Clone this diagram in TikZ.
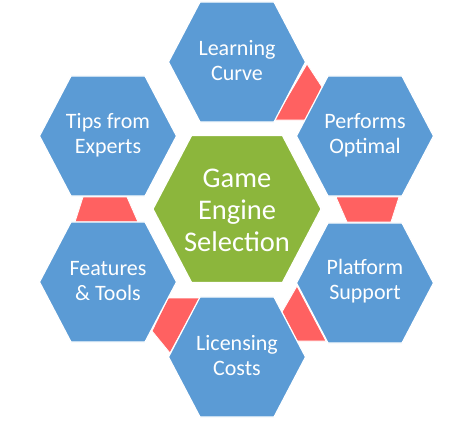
\documentclass[tikz,border=0pt]{standalone}
\usepackage{fontspec}
\setmainfont{Carlito}
\definecolor{hexblue}{RGB}{91,155,213}
\definecolor{hexgreen}{RGB}{140,182,60}
\definecolor{hexred}{RGB}{255,97,97}
\tikzset{
  bluehex/.style={fill=hexblue,draw=white,line width=1.2pt,line join=miter},
  greenhex/.style={fill=hexgreen,draw=white,line width=1.2pt,line join=miter},
  redpiece/.style={fill=hexred,draw=white,line width=0.8pt},
  hexlabel/.style={text=white,align=center,font=\fontsize{22}{25}\selectfont},
  centerlabel/.style={text=white,align=center,font=\fontsize{28.5}{32}\selectfont}
}
\newcommand{\hexat}[4]{% style, x, y, half-width
  \path[#1] (#2,#3) ++(-#4,0) -- ++({0.46*#4},{0.876*#4}) -- ++({1.08*#4},0)
    -- ++({0.46*#4},{-0.876*#4}) -- ++({-0.46*#4},{-0.876*#4}) -- ++({-1.08*#4},0) -- cycle;}
\begin{document}
\begin{tikzpicture}[x=1pt,y=-1pt]
\useasboundingbox[fill=white] (0,0) rectangle (462,425);
% red connecting pieces
\path[redpiece] (307,64) -- (322,87) -- (306,120) -- (274,120) -- cycle;
\path[redpiece] (336,197) -- (399,197) -- (391,222) -- (347,222) -- cycle;
\path[redpiece] (297,286) -- (282,312) -- (297,341) -- (326,341) -- cycle;
\path[redpiece] (168,298) -- (200,298) -- (170,353) -- (152,331) -- cycle;
\path[redpiece] (83,197) -- (127,197) -- (138,222) -- (75,222) -- cycle;
% hexagons
\hexat{bluehex}{237}{62}{68.5}
\hexat{bluehex}{365}{136}{68.5}
\hexat{bluehex}{365}{283}{68.5}
\hexat{bluehex}{237}{357}{68.5}
\hexat{bluehex}{108}{282}{68.5}
\hexat{bluehex}{108}{136}{68.5}
\hexat{greenhex}{237}{209}{84}
% labels
\node[hexlabel] (learning) at (237,61) {Learning\\Curve};
\node[hexlabel] (performs) at (365,135) {Performs\\Optimal};
\node[hexlabel] (platform) at (365,281) {Platform\\Support};
\node[hexlabel] (licensing) at (237,356) {Licensing\\Costs};
\node[hexlabel] (features) at (108,281) {Features\\\& Tools};
\node[hexlabel] (tips) at (108,135) {Tips from\\Experts};
\node[centerlabel] (center) at (237,210) {Game\\Engine\\Selection};
\end{tikzpicture}
\end{document}
